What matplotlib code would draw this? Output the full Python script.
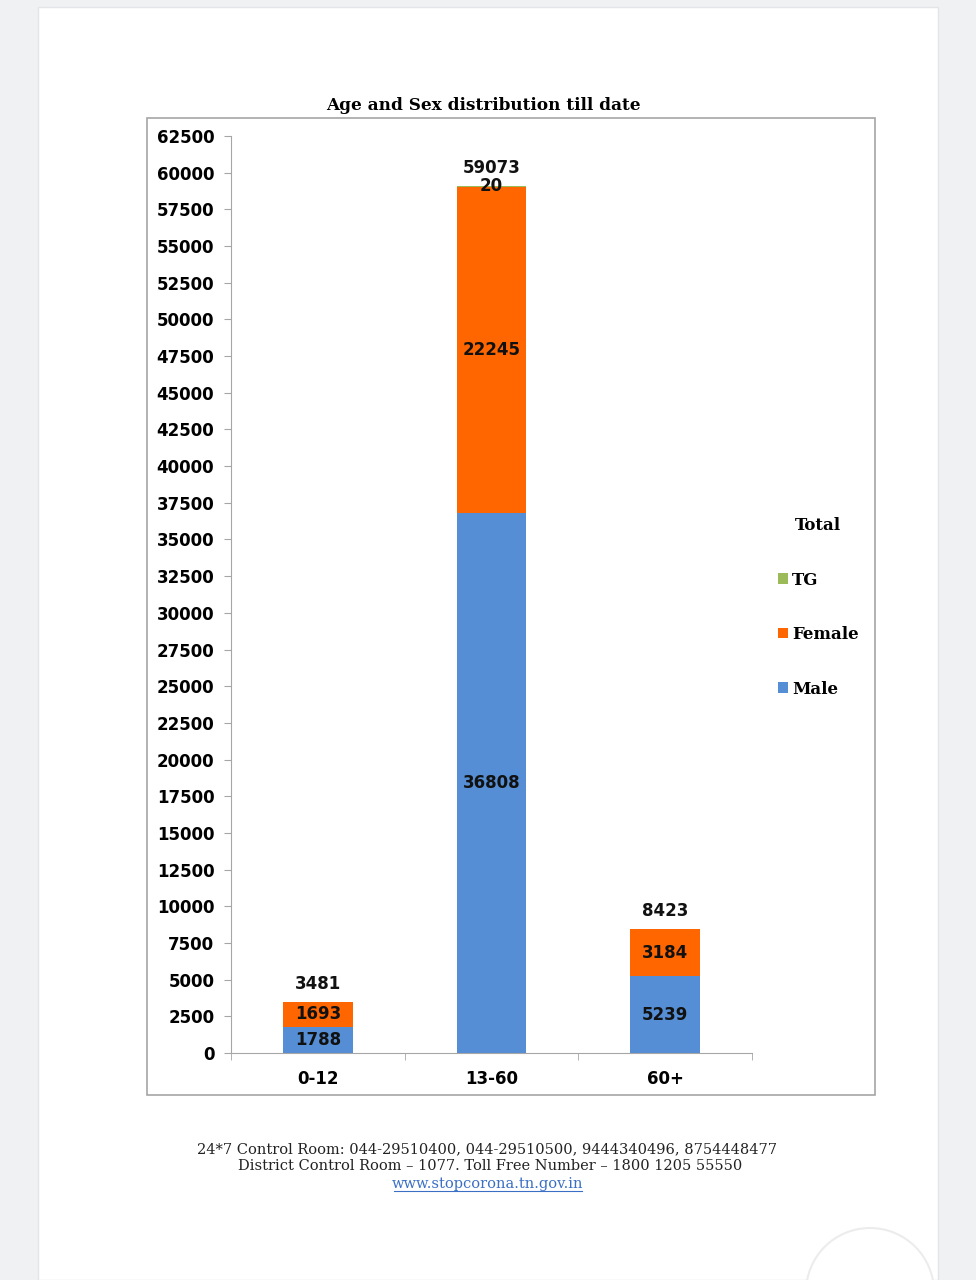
import matplotlib.pyplot as plt
from matplotlib.patches import Rectangle, Circle
import numpy as np

ages = ['0-12', '13-60', '60+']
male = [1788, 36808, 5239]
female = [1693, 22245, 3184]
tg = [0, 20, 0]
totals = [3481, 59073, 8423]

c_male = '#558ed5'
c_female = '#ff6600'
c_tg = '#9bbb59'

fig = plt.figure(figsize=(9.76, 12.8), dpi=100)
fig.patch.set_facecolor('#f0f1f3')

# white page + chart frame
fig.patches.append(Rectangle((38/976, 0), 900/976, 1 - 7/1280, transform=fig.transFigure,
                             facecolor='white', edgecolor='#e4e5e8', lw=1, zorder=-2))
fig.patches.append(Rectangle((147/976, 1 - 1095/1280), 728/976, 977/1280, transform=fig.transFigure,
                             facecolor='none', edgecolor='#a6a6a6', lw=1.2, zorder=-1))
fig.patches.append(Circle((8.70, 12.8 - 12.92), 0.64, transform=fig.dpi_scale_trans,
                          facecolor='white', edgecolor='#ececec', lw=1.5, zorder=3))

ax = fig.add_axes([231/976, 1 - 1053/1280, 521/976, 917/1280])
ax.set_facecolor('none')
x = np.arange(len(ages))
w = 0.4
b1 = ax.bar(x, male, w, color=c_male, label='Male')
b2 = ax.bar(x, female, w, bottom=male, color=c_female, label='Female')
bottom_tg = np.array(male) + np.array(female)
b3 = ax.bar(x, tg, w, bottom=bottom_tg, color=c_tg, label='TG')

lab = dict(ha='center', va='center', fontsize=12, fontweight='bold', color='#111111')
for i in range(len(ages)):
    ax.text(x[i], male[i] / 2, str(male[i]), **lab)
    ax.text(x[i], male[i] + female[i] / 2, str(female[i]), **lab)
    if tg[i] > 0:
        ax.text(x[i], bottom_tg[i] + tg[i] / 2, str(tg[i]), **lab)
    ax.annotate(str(totals[i]), (x[i], totals[i]), xytext=(0, 13), textcoords='offset points', **lab)

ax.set_xlim(-0.5, 2.5)
ax.set_ylim(0, 62500)
ax.set_yticks(np.arange(0, 62501, 2500))
ax.set_yticklabels([str(v) for v in range(0, 62501, 2500)], fontsize=12, fontweight='bold')
ax.set_xticks(x)
ax.set_xticklabels(ages, fontsize=12, fontweight='bold')
ax.set_xticks([-0.5, 0.5, 1.5, 2.5], minor=True)
ax.tick_params(axis='x', which='major', length=0, pad=12)
ax.tick_params(axis='x', which='minor', length=5, color='#a6a6a6')
ax.tick_params(axis='y', length=5, color='#a6a6a6', pad=7)
for s in ['top', 'right']:
    ax.spines[s].set_visible(False)
for s in ['left', 'bottom']:
    ax.spines[s].set_color('#a6a6a6')

leg = ax.legend(handles=[b3, b2, b1], title='Total', loc='upper left',
                bbox_to_anchor=(532/521, 1 - (502 - 136)/917), frameon=False,
                handlelength=0.6, handleheight=0.6, handletextpad=0.25,
                labelspacing=2.25, prop={'family': 'DejaVu Serif', 'weight': 'bold', 'size': 12})
leg.get_title().set_fontproperties({'family': 'DejaVu Serif', 'weight': 'bold', 'size': 12})
leg._legend_box.sep = 27

fig.text(483/976, 1 - 105/1280, 'Age and Sex distribution till date', ha='center', va='center',
         family='DejaVu Serif', fontweight='bold', fontsize=12.2)

foot = dict(ha='center', va='center', family='DejaVu Serif', fontsize=10.5, color='#222222')
fig.text(487/976, 1 - 1149/1280, '24*7 Control Room: 044-29510400, 044-29510500, 9444340496, 8754448477', **foot)
fig.text(490/976, 1 - 1166/1280, 'District Control Room \u2013 1077. Toll Free Number \u2013 1800 1205 55550', **foot)
t = fig.text(488/976, 1 - 1184/1280, 'www.stopcorona.tn.gov.in', ha='center', va='center',
             family='DejaVu Serif', fontsize=10.5, color='#3a6fc4')
fig.add_artist(plt.Line2D([394/976, 582/976], [1 - 1191/1280] * 2, color='#3a6fc4', lw=0.8))

fig.savefig('out.png', dpi=100, facecolor=fig.get_facecolor())
